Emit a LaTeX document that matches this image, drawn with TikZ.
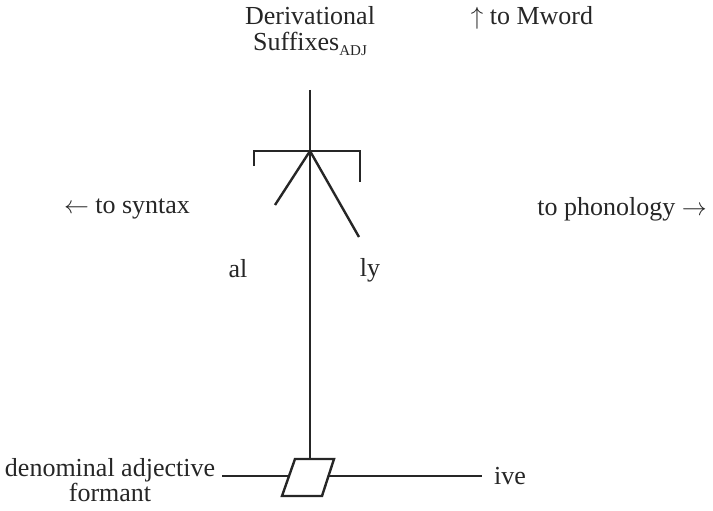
\documentclass[tikz,border=0pt]{standalone}
\usepackage{fontspec}
\setmainfont{Liberation Serif}
\begin{document}
\begin{tikzpicture}[x=1pt,y=-1pt,
  lbl/.style={font=\fontsize{26}{28}\selectfont, inner sep=0pt, text=black!85},
  ln/.style={line width=2.4pt, black!85}]
\useasboundingbox (0,0) rectangle (713,511);
% texts
\node[lbl, align=center] (deriv) at (310,31) {Derivational\\[-2pt]Suffixes\raisebox{-5pt}{\fontsize{15}{15}\selectfont ADJ}};
\node[lbl] (mword) at (532,18) {$\uparrow$ to Mword};
\node[lbl] (syntax) at (127,209) {$\leftarrow$ to syntax};
\node[lbl] (phon) at (622,209) {to phonology $\rightarrow$};
\node[lbl] (al) at (238,269) {al};
\node[lbl] (ly) at (370,270) {ly};
\node[lbl, align=center] (formant) at (110,480) {denominal adjective\\[-3pt]formant};
\node[lbl] (ive) at (510,476) {ive};
% coordinates
\coordinate (top) at (310,90);
\coordinate (hub) at (310,151);
\coordinate (bl) at (254,151);
\coordinate (bl2) at (254,166);
\coordinate (br) at (360,151);
\coordinate (br2) at (360,182);
\coordinate (dl) at (275,205);
\coordinate (dr) at (359,237);
\coordinate (pt) at (310,459);
\coordinate (hl) at (222,476);
\coordinate (hr) at (482,476);
% parallelogram
\draw[ln, line join=miter] (295,459) -- (334,459) -- (322,496) -- (282,496) -- cycle;
\coordinate (pl) at (289.5,476);
\coordinate (pr) at (328.4,476);
% lines
\draw[ln] (top) -- (pt);
\draw[ln, line join=miter] (bl2) -- (bl) -- (br) -- (br2);
\draw[ln] (hub) -- (dl);
\draw[ln] (hub) -- (dr);
\draw[ln] (hl) -- (pl);
\draw[ln] (pr) -- (hr);
\end{tikzpicture}
\end{document}
